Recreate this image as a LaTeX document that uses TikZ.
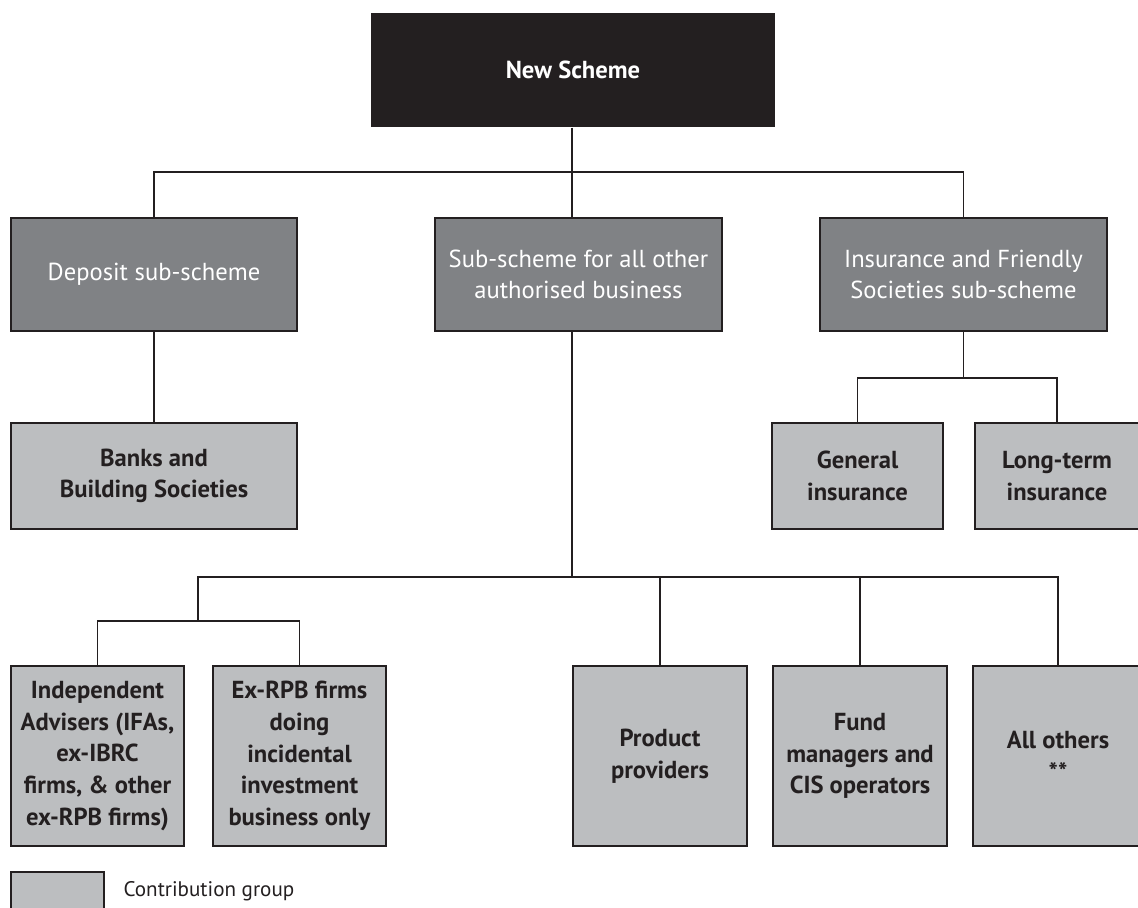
\documentclass[tikz,border=0pt]{standalone}
\usepackage{fontspec}
\setmainfont{PT Sans}
\usepackage{tikz}

\definecolor{inkblack}{HTML}{231F20}
\definecolor{midgrey}{HTML}{808285}
\definecolor{lightgrey}{HTML}{BCBEC0}

\begin{document}
\begin{tikzpicture}
            [x=0.02cm,y=-0.02cm,line width=0.7pt,draw=inkblack,
             every node/.style={rectangle,inner sep=0pt,align=center,font=\fontsize{14}{18}\selectfont},
             headbox/.style={fill=inkblack,text=white,font=\fontsize{14}{18}\selectfont\bfseries},
             subbox/.style={draw=inkblack,line width=0.6pt,fill=midgrey,text=white},
             groupbox/.style={draw=inkblack,line width=0.6pt,fill=lightgrey,text=inkblack,font=\fontsize{14}{18}\selectfont\bfseries}]
            \useasboundingbox (0,0) rectangle (1138,907);

            % top level
            \node[headbox,minimum width=404*0.02cm,minimum height=114*0.02cm] (scheme) at (573,70) {New Scheme};

            % sub-schemes
            \node[subbox,minimum width=286*0.02cm,minimum height=113*0.02cm] (deposit) at (154,274.5) {Deposit sub-scheme};
            \node[subbox,minimum width=287*0.02cm,minimum height=113*0.02cm] (other) at (578.5,274.5) {Sub-scheme for all other\\authorised business};
            \node[subbox,minimum width=287*0.02cm,minimum height=113*0.02cm] (insur) at (963.5,274.5) {Insurance and Friendly\\Societies sub-scheme};

            % contribution groups
            \node[groupbox,minimum width=286*0.02cm,minimum height=106*0.02cm] (banks) at (154,476) {Banks and\\Building Societies};
            \node[groupbox,minimum width=171*0.02cm,minimum height=106*0.02cm] (general) at (857.5,476) {General\\insurance};
            \node[groupbox,minimum width=164*0.02cm,minimum height=106*0.02cm] (longterm) at (1057,476) {Long-term\\insurance};
            \node[groupbox,minimum width=173*0.02cm,minimum height=180*0.02cm] (ifa) at (97.5,756) {Independent\\Advisers (IFAs,\\ex-IBRC\\firms, \& other\\ex-RPB firms)};
            \node[groupbox,minimum width=173*0.02cm,minimum height=180*0.02cm] (exrpb) at (299.5,756) {Ex-RPB firms\\doing\\incidental\\investment\\business only};
            \node[groupbox,minimum width=174*0.02cm,minimum height=180*0.02cm] (product) at (660,756) {Product\\providers};
            \node[groupbox,minimum width=174*0.02cm,minimum height=180*0.02cm] (fund) at (860,756) {Fund\\managers and\\CIS operators};
            \node[groupbox,minimum width=170*0.02cm,minimum height=180*0.02cm] (others) at (1058,756) {All others\\**};

            % key
            \node[groupbox,minimum width=93*0.02cm,minimum height=40*0.02cm] (keybox) at (57.5,892) {};
            \node[anchor=west,font=\fontsize{12}{14}\selectfont,text=inkblack] (keytext) at (123,891) {Contribution group};

            % junctions
            \coordinate (topbus) at (572,172);
            \coordinate (insbus) at (insur.south |- 0,378);
            \coordinate (lowbus) at (572,577);
            \coordinate (leftbus) at (198,621);

            % connectors
            \draw (scheme.south -| topbus) -- (topbus);
            \draw (deposit.north) |- (topbus) -| (insur.north);
            \draw (topbus) -- (topbus |- other.north);
            \draw (deposit.south) -- (banks.north);
            \draw (insur.south) -- (insbus);
            \draw (general.north) |- (insbus) -| (longterm.north);
            \draw (other.south -| lowbus) -- (lowbus);
            \draw (ifa.north) |- (leftbus) -| (exrpb.north);
            \draw (leftbus) |- (lowbus) -| (others.north);
            \draw (product.north) -- (product.north |- lowbus);
            \draw (fund.north) -- (fund.north |- lowbus);
        \end{tikzpicture}
\end{document}
